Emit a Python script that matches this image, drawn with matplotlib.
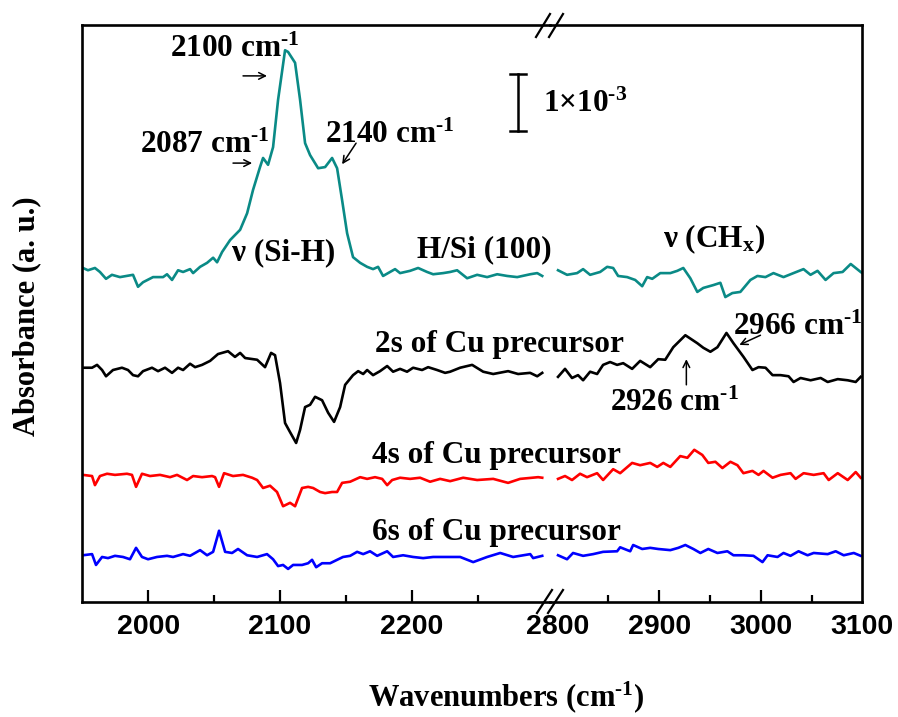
import matplotlib
matplotlib.use("Agg")
import matplotlib.pyplot as plt
from matplotlib.lines import Line2D
from matplotlib.ticker import FixedLocator

plt.rcParams['font.family'] = ['Liberation Serif', 'DejaVu Serif']
plt.rcParams['font.weight'] = 'bold'
plt.rcParams['mathtext.fontset'] = 'custom'
plt.rcParams['mathtext.rm'] = 'Liberation Serif:bold'
plt.rcParams['mathtext.bf'] = 'Liberation Serif:bold'
plt.rcParams['mathtext.it'] = 'Liberation Serif:bold'
plt.rcParams['mathtext.default'] = 'bf'

# ---------------- data (absorbance, units of 1e-3, stacked as displayed) ----------------
teal_x_lo = [1950.5, 1954.3, 1959.6, 1963.4, 1968.0, 1972.5, 1978.6, 1988.5, 1992.3, 1996.1, 2003.7, 2011.3,
             2014.3, 2018.1, 2022.7, 2026.5, 2031.8, 2034.1, 2039.4, 2044.7, 2049.3, 2052.3, 2056.1, 2062.2,
             2069.8, 2075.1, 2079.6, 2084.9, 2087.2, 2091.0, 2094.8, 2098.6, 2103.9, 2106.2, 2111.5, 2115.3,
             2119.1, 2122.9, 2129.0, 2134.3, 2139.6, 2143.4, 2147.2, 2151.0, 2155.5, 2160.9, 2166.2, 2170.7,
             2174.5, 2178.3, 2183.6, 2187.4, 2191.2, 2198.8, 2204.9, 2211.7, 2216.3, 2223.9, 2229.2, 2234.5,
             2242.1, 2249.7, 2257.3, 2264.9, 2272.5, 2280.1, 2290.0, 2295.3, 2299.1]
teal_y_lo = [5.86, 5.82, 5.86, 5.79, 5.67, 5.74, 5.70, 5.74, 5.53, 5.61, 5.70, 5.70,
             5.75, 5.65, 5.82, 5.79, 5.84, 5.77, 5.88, 5.95, 6.04, 5.96, 6.14, 6.35,
             6.53, 6.82, 7.23, 7.63, 7.79, 7.67, 7.98, 8.81, 9.68, 9.65, 9.46, 8.81,
             8.05, 7.84, 7.61, 7.63, 7.79, 7.61, 7.05, 6.47, 6.05, 5.95, 5.88, 5.84,
             5.88, 5.72, 5.79, 5.84, 5.77, 5.81, 5.86, 5.79, 5.75, 5.77, 5.79, 5.82,
             5.68, 5.74, 5.70, 5.75, 5.72, 5.70, 5.75, 5.77, 5.72]
teal_x_hi = [2800.3, 2809.2, 2819.1, 2825.0, 2831.9, 2841.8, 2848.7, 2854.6, 2859.5, 2868.4, 2876.3, 2883.2,
             2888.1, 2893.1, 2901.0, 2910.9, 2917.8, 2923.7, 2930.6, 2937.5, 2943.4, 2953.3, 2960.2, 2965.1,
             2972.0, 2979.9, 2989.8, 2996.7, 3004.6, 3012.5, 3022.4, 3032.2, 3042.1, 3049.0, 3055.9, 3063.8,
             3071.7, 3080.6, 3088.6, 3093.5, 3098.4, 3100.0]
teal_y_hi = [5.82, 5.74, 5.77, 5.84, 5.74, 5.79, 5.88, 5.86, 5.72, 5.70, 5.65, 5.54,
             5.70, 5.67, 5.77, 5.77, 5.81, 5.86, 5.68, 5.44, 5.51, 5.56, 5.60, 5.35,
             5.42, 5.44, 5.65, 5.72, 5.70, 5.77, 5.70, 5.77, 5.84, 5.74, 5.81, 5.65,
             5.77, 5.79, 5.93, 5.86, 5.79, 5.77]

black_x_lo = [1950.5, 1957.4, 1961.2, 1965.0, 1968.0, 1973.3, 1980.1, 1984.7, 1988.5, 1992.3, 1996.1, 2002.9,
              2007.5, 2012.8, 2018.1, 2022.7, 2026.5, 2031.8, 2035.6, 2040.9, 2047.0, 2053.0, 2060.6, 2065.9,
              2069.8, 2073.6, 2082.7, 2088.7, 2093.3, 2096.3, 2100.1, 2103.9, 2107.7, 2112.3, 2115.3, 2119.1,
              2122.9, 2126.7, 2132.0, 2136.6, 2141.1, 2145.7, 2149.5, 2155.5, 2159.4, 2163.2, 2166.2, 2170.7,
              2176.0, 2181.4, 2185.9, 2191.2, 2196.5, 2201.1, 2207.9, 2212.5, 2219.3, 2225.4, 2229.2, 2236.8,
              2245.9, 2254.3, 2261.9, 2273.2, 2280.8, 2289.9, 2295.3, 2299.1]
black_y_lo = [4.11, 4.11, 4.16, 4.07, 3.96, 4.07, 4.11, 4.07, 3.98, 3.96, 4.05, 4.11,
              4.05, 4.11, 4.02, 4.11, 4.07, 4.18, 4.12, 4.16, 4.23, 4.35, 4.40, 4.30,
              4.37, 4.28, 4.25, 4.12, 4.37, 4.33, 3.84, 3.14, 2.98, 2.79, 3.02, 3.42,
              3.46, 3.60, 3.54, 3.32, 3.16, 3.42, 3.81, 3.98, 4.05, 4.00, 4.07, 3.98,
              4.05, 4.14, 4.04, 4.09, 4.04, 4.11, 4.07, 4.12, 4.07, 4.02, 4.04, 4.11,
              4.16, 4.04, 4.00, 4.05, 4.00, 4.02, 3.96, 4.02]
black_x_hi = [2800.3, 2807.2, 2814.1, 2820.0, 2825.0, 2831.9, 2838.8, 2844.7, 2851.6, 2858.5, 2864.5, 2873.3,
              2881.2, 2891.1, 2899.0, 2905.9, 2913.8, 2925.7, 2937.5, 2943.4, 2950.4, 2957.3, 2966.2, 2973.1,
              2983.0, 2991.8, 2997.8, 3004.7, 3011.6, 3019.5, 3027.4, 3032.3, 3039.2, 3049.1, 3059.0, 3065.9,
              3075.8, 3085.6, 3093.5, 3098.4]
black_y_hi = [3.95, 4.09, 3.93, 3.98, 3.89, 4.04, 4.00, 4.16, 4.21, 4.16, 4.19, 4.09,
              4.23, 4.12, 4.26, 4.25, 4.47, 4.68, 4.54, 4.46, 4.39, 4.47, 4.72, 4.54,
              4.30, 4.07, 4.12, 4.11, 3.98, 3.98, 3.96, 3.86, 3.93, 3.89, 3.93, 3.86,
              3.91, 3.89, 3.86, 3.95]

red_x_lo = [1950.5, 1957.4, 1959.6, 1963.4, 1968.8, 1974.8, 1983.9, 1987.7, 1990.8, 1995.3, 2001.4, 2009.0,
            2016.6, 2021.9, 2029.5, 2034.1, 2040.9, 2048.5, 2050.8, 2053.8, 2057.6, 2064.4, 2072.0, 2078.9,
            2082.7, 2087.2, 2092.5, 2097.8, 2102.4, 2107.7, 2111.5, 2116.8, 2121.4, 2125.2, 2130.5, 2134.3,
            2139.6, 2143.4, 2147.2, 2153.3, 2160.9, 2166.2, 2172.2, 2177.6, 2181.4, 2185.2, 2191.2, 2198.8,
            2206.4, 2214.0, 2221.6, 2229.2, 2239.1, 2249.7, 2261.9, 2273.2, 2282.3, 2291.5, 2296.0, 2299.1]
red_y_lo = [2.23, 2.21, 2.05, 2.21, 2.25, 2.23, 2.25, 2.23, 2.02, 2.25, 2.21, 2.23,
            2.19, 2.23, 2.14, 2.21, 2.19, 2.21, 2.19, 2.02, 2.26, 2.21, 2.23, 2.18,
            2.14, 2.00, 2.04, 1.93, 1.68, 1.74, 1.68, 2.00, 2.02, 2.00, 1.93, 1.91,
            1.93, 1.93, 2.09, 2.11, 2.19, 2.16, 2.19, 2.16, 2.05, 2.14, 2.18, 2.16,
            2.18, 2.11, 2.16, 2.12, 2.18, 2.14, 2.16, 2.09, 2.16, 2.18, 2.19, 2.18]
red_x_hi = [2800.3, 2807.2, 2814.1, 2822.0, 2828.9, 2838.8, 2844.7, 2854.6, 2861.5, 2873.3, 2881.2, 2891.1,
            2898.0, 2904.0, 2910.9, 2920.7, 2927.7, 2934.5, 2942.4, 2948.3, 2955.3, 2962.2, 2970.1, 2977.0,
            2982.9, 2991.8, 2997.8, 3002.7, 3011.6, 3019.5, 3029.3, 3034.3, 3042.2, 3052.1, 3061.9, 3066.9,
            3075.8, 3085.6, 3093.5, 3098.4]
red_y_hi = [2.16, 2.21, 2.14, 2.25, 2.19, 2.26, 2.14, 2.33, 2.26, 2.44, 2.40, 2.44,
            2.37, 2.44, 2.37, 2.56, 2.53, 2.67, 2.58, 2.44, 2.46, 2.35, 2.46, 2.40,
            2.26, 2.30, 2.23, 2.30, 2.18, 2.23, 2.26, 2.16, 2.26, 2.23, 2.26, 2.14,
            2.26, 2.14, 2.28, 2.18]

blue_x_lo = [1950.5, 1957.4, 1960.4, 1965.0, 1969.5, 1974.8, 1980.9, 1986.2, 1990.8, 1995.3, 1999.9, 2006.7,
             2014.3, 2018.9, 2026.5, 2031.8, 2039.4, 2044.7, 2049.3, 2053.8, 2058.4, 2063.7, 2068.2, 2075.1,
             2082.7, 2090.2, 2094.8, 2098.6, 2102.4, 2106.2, 2110.0, 2116.8, 2121.4, 2124.4, 2127.5, 2132.0,
             2138.1, 2143.4, 2147.9, 2153.3, 2158.6, 2163.2, 2168.4, 2173.8, 2181.4, 2185.9, 2193.5, 2201.1,
             2208.7, 2216.3, 2226.9, 2236.8, 2246.7, 2257.3, 2267.2, 2277.0, 2290.0, 2292.2, 2299.1]
blue_y_lo = [0.82, 0.84, 0.65, 0.79, 0.77, 0.81, 0.79, 0.75, 0.95, 0.79, 0.75, 0.79,
             0.81, 0.79, 0.84, 0.81, 0.91, 0.82, 0.88, 1.25, 0.88, 0.86, 0.93, 0.82,
             0.79, 0.84, 0.75, 0.63, 0.65, 0.58, 0.65, 0.65, 0.68, 0.74, 0.61, 0.68,
             0.68, 0.74, 0.79, 0.81, 0.88, 0.84, 0.89, 0.81, 0.89, 0.79, 0.82, 0.79,
             0.77, 0.79, 0.79, 0.79, 0.70, 0.79, 0.86, 0.79, 0.84, 0.77, 0.81]
blue_x_hi = [2800.3, 2809.2, 2815.1, 2825.0, 2834.9, 2844.7, 2858.5, 2861.5, 2871.4, 2874.3, 2883.2, 2891.1,
             2899.0, 2910.9, 2918.8, 2925.7, 2933.6, 2940.5, 2948.3, 2957.3, 2967.1, 2973.1, 2983.0, 2992.8,
             3001.7, 3006.7, 3016.5, 3022.4, 3029.3, 3037.2, 3046.1, 3052.1, 3065.9, 3073.8, 3081.7, 3091.6,
             3098.4]
blue_y_hi = [0.82, 0.75, 0.86, 0.81, 0.84, 0.88, 0.89, 0.96, 0.89, 1.00, 0.93, 0.95,
             0.93, 0.91, 0.95, 1.00, 0.93, 0.86, 0.93, 0.86, 0.89, 0.82, 0.82, 0.81,
             0.70, 0.82, 0.79, 0.86, 0.81, 0.89, 0.82, 0.86, 0.84, 0.89, 0.82, 0.86,
             0.81]

ticks_lo = [2000, 2100, 2200]
minor_lo = [2050, 2150, 2250]
ticks_hi = [2800, 2900, 3000, 3100]
minor_hi = [2850, 2950, 3050]

TEAL = '#0a8a86'
LW = 1.9
SUP = r'$^{\text{-1}}$'

# ---------------- figure ----------------
W, H = 898, 717
fig = plt.figure(figsize=(W / 100, H / 100), dpi=100)
x0, xb, x1 = 82.3, 550.0, 862.3
ytop, ybot = 25.0, 602.0
axL = fig.add_axes([x0 / W, 1 - ybot / H, (xb - x0) / W, (ybot - ytop) / H])
axR = fig.add_axes([xb / W, 1 - ybot / H, (x1 - xb) / W, (ybot - ytop) / H])

for ax, xs, ys, c in [(axL, teal_x_lo, teal_y_lo, TEAL), (axR, teal_x_hi, teal_y_hi, TEAL),
                      (axL, black_x_lo, black_y_lo, 'black'), (axR, black_x_hi, black_y_hi, 'black'),
                      (axL, red_x_lo, red_y_lo, '#ff0000'), (axR, red_x_hi, red_y_hi, '#ff0000'),
                      (axL, blue_x_lo, blue_y_lo, '#0000ff'), (axR, blue_x_hi, blue_y_hi, '#0000ff')]:
    ax.plot(xs, ys, color=c, lw=LW, solid_joinstyle='round')

axL.set_xlim(1950, 2305.0)
axR.set_xlim(2792.4, 3100)
for ax in (axL, axR):
    ax.set_ylim(0, (ybot - ytop) / 57.0)
    ax.set_yticks([])
    for s in ax.spines.values():
        s.set_linewidth(1.9)
    ax.tick_params(axis='x', which='major', direction='in', length=9, width=1.6, pad=9,
                   top=False, labelsize=20.5)
    ax.tick_params(axis='x', which='minor', direction='in', length=5, width=1.6, top=False)
    ax.patch.set_visible(False)
axL.spines['right'].set_visible(False)
axR.spines['left'].set_visible(False)

axL.set_xticks(ticks_lo)
axL.xaxis.set_minor_locator(FixedLocator(minor_lo))
axR.set_xticks(ticks_hi)
axR.xaxis.set_minor_locator(FixedLocator(minor_hi))
for ax, tk in ((axL, ticks_lo), (axR, ticks_hi)):
    ax.set_xticklabels([str(t) for t in tk], family=['Liberation Sans', 'DejaVu Sans'],
                       fontweight='bold', fontsize=20.5)
axR.xaxis.get_major_ticks()[0].tick1line.set_visible(False)
axR.xaxis.get_major_ticks()[-1].tick1line.set_visible(False)

# break marks
for (xa, ya, xc, yc) in [(536, 37, 550, 14), (549, 37, 563, 14),
                         (537, 613, 552, 590), (548, 613, 563, 590)]:
    fig.add_artist(Line2D([xa / W, xc / W], [1 - ya / H, 1 - yc / H], color='black', lw=1.6))

FS = 22.5
# annotations, left panel
axL.text(2016.6, 9.56, '2100 cm' + SUP, fontsize=FS, ha='left', va='baseline')
axL.text(1993.8, 7.88, '2087 cm' + SUP, fontsize=FS, ha='left', va='baseline')
axL.text(2134.3, 8.05, '2140 cm' + SUP, fontsize=FS, ha='left', va='baseline')
axL.text(2063.7, 6.00, 'ν (Si-H)', fontsize=FS, ha='left', va='baseline')
axL.text(2204.1, 6.05, 'H/Si (100)', fontsize=FS, ha='left', va='baseline', clip_on=False)
axL.text(2172.2, 4.39, '2s of Cu precursor', fontsize=FS, ha='left', va='baseline', clip_on=False)
axL.text(2169.8, 2.44, '4s of Cu precursor', fontsize=FS, ha='left', va='baseline', clip_on=False)
axL.text(2169.8, 1.09, '6s of Cu precursor', fontsize=FS, ha='left', va='baseline', clip_on=False)
axL.text(2299.8, 8.60, r'1×10$^{\text{-3}}$', fontsize=FS, ha='left', va='baseline', clip_on=False)

# scale bar (1e-3)
axL.plot([2280.8, 2280.8], [8.26, 9.26], color='black', lw=1.8)
axL.plot([2274.5, 2287.1], [9.26, 9.26], color='black', lw=1.8)
axL.plot([2274.5, 2287.1], [8.26, 8.26], color='black', lw=1.8)

# annotations, right panel
axR.text(2904.0, 6.23, r'ν (CH$_{x}$)', fontsize=FS, ha='left', va='baseline')
axR.text(2973.1, 4.68, '2966 cm' + SUP, fontsize=FS, ha='left', va='baseline', clip_on=False)
axR.text(2851.6, 3.35, '2926 cm' + SUP, fontsize=FS, ha='left', va='baseline')

arrow_kw = dict(arrowstyle='->', color='black', lw=1.1, mutation_scale=12, shrinkA=0, shrinkB=0)
axL.annotate('', xy=(2090.2, 9.23), xytext=(2072.0, 9.23), arrowprops=arrow_kw)
axL.annotate('', xy=(2078.9, 7.70), xytext=(2064.4, 7.70), arrowprops=arrow_kw)
axL.annotate('', xy=(2147.2, 7.68), xytext=(2157.8, 8.05), arrowprops=arrow_kw)
axR.annotate('', xy=(2926.7, 4.26), xytext=(2926.7, 3.81), arrowprops=arrow_kw)
axR.annotate('', xy=(2978.9, 4.51), xytext=(2999.7, 4.68), arrowprops=arrow_kw)

# axis titles
fig.text(368 / W, 1 - 706 / H, 'Wavenumbers (cm' + SUP + ')', fontsize=22, ha='left', va='baseline')
fig.text(27 / W, 1 - 316 / H, 'Absorbance (a. u.)', fontsize=22, rotation=90, ha='center', va='center')

fig.savefig('out.png', dpi=100)
